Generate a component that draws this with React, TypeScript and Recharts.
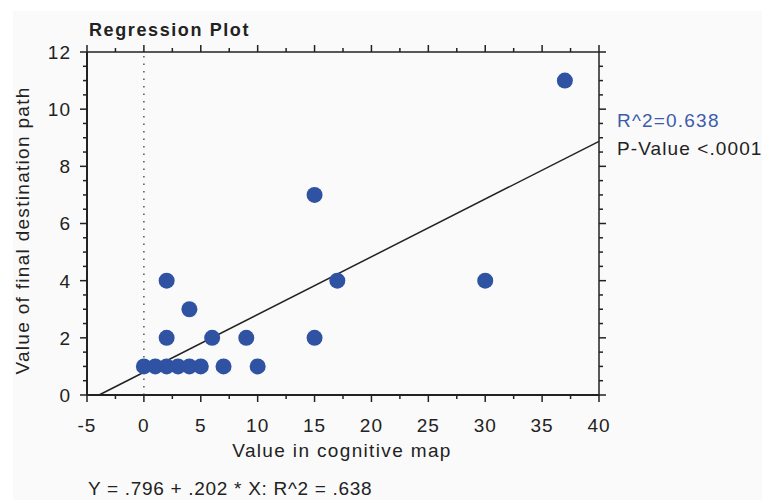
import React from 'react';
import { ScatterChart, Scatter, XAxis, YAxis, ReferenceLine, Label } from 'recharts';

// ---- data ----
const cognitiveMap = [0, 1, 2, 3, 4, 5, 7, 10, 2, 6, 9, 15, 4, 2, 17, 15, 30, 37];
const finalPath = [1, 1, 1, 1, 1, 1, 1, 1, 2, 2, 2, 2, 3, 4, 4, 7, 4, 11];
const xTicks = [-5, -2.5, 0, 2.5, 5, 7.5, 10, 12.5, 15, 17.5, 20, 22.5, 25, 27.5, 30, 32.5, 35, 37.5, 40];
const yTicks = [0, 0.5, 1, 1.5, 2, 2.5, 3, 3.5, 4, 4.5, 5, 5.5, 6, 6.5, 7, 7.5, 8, 8.5, 9, 9.5, 10, 10.5, 11, 11.5, 12];
const xDomain = [-5, 40];
const yDomain = [0, 12];
const intercept = 0.796;
const slope = 0.202;
const rSquared = '0.638';
const pValue = '<.0001';
const title = 'Regression Plot';
const xLabel = 'Value in cognitive map';
const yLabel = 'Value of final destination path';
const formula = 'Y = .796 + .202 * X: R^2 = .638';

const points = cognitiveMap.map((x, i) => ({ x, y: finalPath[i] }));
const lineStart = { x: -intercept / slope, y: 0 };
const lineEnd = { x: xDomain[1], y: intercept + slope * xDomain[1] };

const FONT = '"Liberation Sans", Arial, sans-serif';
const INK = '#222';
const DOT = '#2f52a2';
const BLUE = '#3d5cab';

const tickText = { fontFamily: FONT, fontSize: 19, letterSpacing: 1, fill: INK } as const;

const BottomTick = (props: any) => {
  const { x, y, payload } = props;
  const v = payload.value;
  const major = v % 5 === 0;
  return (
    <g>
      <line x1={x} y1={y} x2={x} y2={y + (major ? 7 : 4)} stroke={INK} strokeWidth={1.5} />
      {major && (
        <text x={x} y={y + 37} textAnchor="middle" style={tickText}>
          {v}
        </text>
      )}
    </g>
  );
};

const TopTick = (props: any) => {
  const { x, y, payload } = props;
  const major = payload.value % 5 === 0;
  return <line x1={x} y1={y} x2={x} y2={y - (major ? 7 : 4)} stroke={INK} strokeWidth={1.5} />;
};

const LeftTick = (props: any) => {
  const { x, y, payload } = props;
  const v = payload.value;
  const major = v % 2 === 0;
  return (
    <g>
      <line x1={x} y1={y} x2={x - (major ? 7 : 4)} y2={y} stroke={INK} strokeWidth={1.5} />
      {major && (
        <text x={x - 16} y={y} dy="0.36em" textAnchor="end" style={tickText}>
          {v}
        </text>
      )}
    </g>
  );
};

const RightTick = (props: any) => {
  const { x, y, payload } = props;
  const major = payload.value % 2 === 0;
  return <line x1={x} y1={y} x2={x + (major ? 7 : 4)} y2={y} stroke={INK} strokeWidth={1.5} />;
};

const XLabelContent = (props: any) => {
  const vb = props.viewBox || { x: 87, y: 395, width: 512, height: 1 };
  return (
    <text
      x={vb.x + vb.width / 2 - 1}
      y={vb.y + 62}
      textAnchor="middle"
      style={{ fontFamily: FONT, fontSize: 19, letterSpacing: 1.35, fill: INK }}
    >
      {xLabel}
    </text>
  );
};

const YLabelContent = (props: any) => {
  const vb = props.viewBox || { x: 86, y: 52, width: 1, height: 343 };
  const cx = vb.x + vb.width - 65;
  const cy = vb.y + vb.height / 2 + 7;
  return (
    <text
      x={cx}
      y={cy}
      transform={`rotate(-90 ${cx} ${cy})`}
      textAnchor="middle"
      dy="0.36em"
      style={{ fontFamily: FONT, fontSize: 19, letterSpacing: 1.3, fill: INK }}
    >
      {yLabel}
    </text>
  );
};

const Dot = (props: any) => <circle cx={props.cx} cy={props.cy} r={8} fill={DOT} />;
const NoDot = () => null;

export default function App() {
  return (
    <div style={{ position: 'absolute', left: 0, top: 0, width: 762, height: 500, background: '#fff', overflow: 'hidden' }}>
      <div style={{ position: 'absolute', left: 13, top: 11, right: 0, bottom: 0, background: '#fafafa' }} />
      <div style={{ position: 'absolute', left: 0, top: 0 }}>
        <ScatterChart width={762} height={500} margin={{ top: 51, left: 86, right: 162, bottom: 104 }}>
          <XAxis
            xAxisId="b"
            type="number"
            dataKey="x"
            orientation="bottom"
            domain={xDomain}
            ticks={xTicks}
            interval={0}
            height={1}
            tickSize={0}
            tickMargin={0}
            tickLine={false}
            tick={<BottomTick />}
            axisLine={{ stroke: INK, strokeWidth: 2 }}
            allowDataOverflow
          >
            <Label content={<XLabelContent />} />
          </XAxis>
          <XAxis
            xAxisId="t"
            type="number"
            dataKey="x"
            orientation="top"
            domain={xDomain}
            ticks={xTicks}
            interval={0}
            height={1}
            tickSize={0}
            tickMargin={0}
            tickLine={false}
            tick={<TopTick />}
            axisLine={{ stroke: INK, strokeWidth: 1.5 }}
            allowDataOverflow
          />
          <YAxis
            yAxisId="l"
            type="number"
            dataKey="y"
            orientation="left"
            domain={yDomain}
            ticks={yTicks}
            interval={0}
            width={1}
            tickSize={0}
            tickMargin={0}
            tickLine={false}
            tick={<LeftTick />}
            axisLine={{ stroke: INK, strokeWidth: 2 }}
            allowDataOverflow
          >
            <Label content={<YLabelContent />} />
          </YAxis>
          <YAxis
            yAxisId="r"
            type="number"
            dataKey="y"
            orientation="right"
            domain={yDomain}
            ticks={yTicks}
            interval={0}
            width={1}
            tickSize={0}
            tickMargin={0}
            tickLine={false}
            tick={<RightTick />}
            axisLine={{ stroke: INK, strokeWidth: 1.5 }}
            allowDataOverflow
          />
          <ReferenceLine
            xAxisId="b"
            yAxisId="l"
            x={0}
            stroke="#555"
            strokeWidth={1.5}
            strokeDasharray="1.5 6"
          />
          <ReferenceLine
            xAxisId="b"
            yAxisId="l"
            segment={[lineStart, lineEnd]}
            stroke={INK}
            strokeWidth={1.5}
            ifOverflow="visible"
          />
          <Scatter xAxisId="t" yAxisId="r" data={points} shape={<NoDot />} isAnimationActive={false} />
          <Scatter xAxisId="b" yAxisId="l" data={points} shape={<Dot />} isAnimationActive={false} />
        </ScatterChart>
      </div>
      <svg width={762} height={500} style={{ position: 'absolute', left: 0, top: 0, pointerEvents: 'none' }}>
        <text x={89} y={36} style={{ fontFamily: FONT, fontSize: 18, fontWeight: 'bold', letterSpacing: 1.6, fill: INK }}>
          {title}
        </text>
        <text x={617} y={127} style={{ fontFamily: FONT, fontSize: 19, letterSpacing: 1.2, fill: BLUE }}>
          {`R^2=${rSquared}`}
        </text>
        <text x={617} y={155} style={{ fontFamily: FONT, fontSize: 19, letterSpacing: 1.1, fill: INK }}>
          {`P-Value ${pValue}`}
        </text>
        <text x={88} y={495} style={{ fontFamily: FONT, fontSize: 19, letterSpacing: 0.7, fill: INK }}>
          {formula}
        </text>
      </svg>
    </div>
  );
}
